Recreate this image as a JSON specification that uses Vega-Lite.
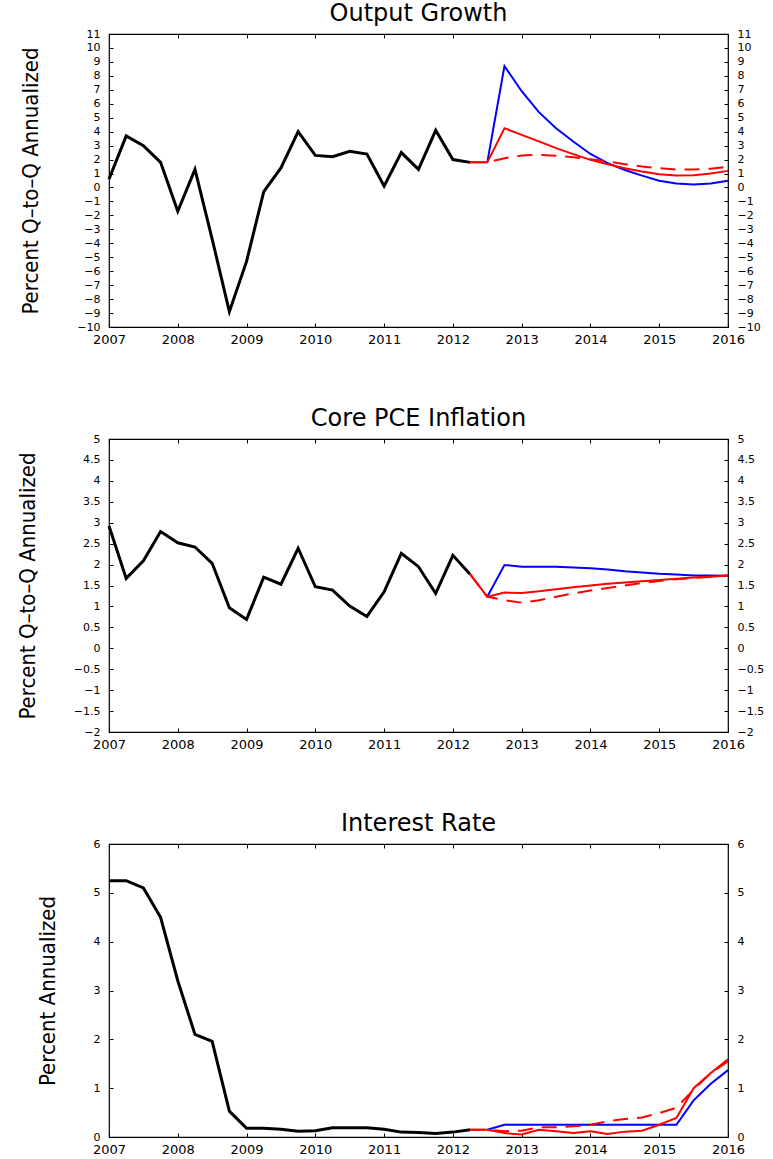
{
  "$schema": "https://vega.github.io/schema/vega-lite/v6.json",
  "background": "white",
  "padding": {"left": 15, "top": 1, "right": 0, "bottom": 0},
  "spacing": 59,
  "config": {
    "view": {"stroke": "black", "strokeWidth": 1.2},
    "axis": {"grid": false, "domain": false, "tickColor": "black", "tickSize": 4, "offset": -4, "labelColor": "black", "labelFont": "DejaVu Sans", "titleColor": "black", "titleFont": "Liberation Sans Narrow, DejaVu Sans Condensed, sans-serif", "titleFontWeight": "normal", "titleFontSize": 22},
    "axisX": {"labelFontSize": 13, "labelPadding": 6, "labelFlush": false},
    "axisY": {"labelFontSize": 11, "labelPadding": 9, "titlePadding": 34},
    "title": {"font": "DejaVu Sans", "fontSize": 24, "fontWeight": "normal", "color": "black", "offset": 2}
  },
  "datasets": {
    "g": [
      {"t": 2007, "v": 0.6, "s": "A"}, {"t": 2007.25, "v": 3.7, "s": "A"}, {"t": 2007.5, "v": 3.0, "s": "A"}, {"t": 2007.75, "v": 1.8, "s": "A"},
      {"t": 2008, "v": -1.7, "s": "A"}, {"t": 2008.25, "v": 1.3, "s": "A"}, {"t": 2008.5, "v": -3.7, "s": "A"}, {"t": 2008.75, "v": -8.9, "s": "A"},
      {"t": 2009, "v": -5.3, "s": "A"}, {"t": 2009.25, "v": -0.3, "s": "A"}, {"t": 2009.5, "v": 1.4, "s": "A"}, {"t": 2009.75, "v": 4.0, "s": "A"},
      {"t": 2010, "v": 2.3, "s": "A"}, {"t": 2010.25, "v": 2.2, "s": "A"}, {"t": 2010.5, "v": 2.6, "s": "A"}, {"t": 2010.75, "v": 2.4, "s": "A"},
      {"t": 2011, "v": 0.1, "s": "A"}, {"t": 2011.25, "v": 2.5, "s": "A"}, {"t": 2011.5, "v": 1.3, "s": "A"}, {"t": 2011.75, "v": 4.1, "s": "A"},
      {"t": 2012, "v": 2.0, "s": "A"}, {"t": 2012.25, "v": 1.8, "s": "A"},
      {"t": 2012.5, "v": 1.8, "s": "B"}, {"t": 2012.75, "v": 8.7, "s": "B"}, {"t": 2013, "v": 6.9, "s": "B"}, {"t": 2013.25, "v": 5.4, "s": "B"},
      {"t": 2013.5, "v": 4.25, "s": "B"}, {"t": 2013.75, "v": 3.3, "s": "B"}, {"t": 2014, "v": 2.4, "s": "B"}, {"t": 2014.25, "v": 1.75, "s": "B"},
      {"t": 2014.5, "v": 1.25, "s": "B"}, {"t": 2014.75, "v": 0.85, "s": "B"}, {"t": 2015, "v": 0.48, "s": "B"}, {"t": 2015.25, "v": 0.29, "s": "B"},
      {"t": 2015.5, "v": 0.21, "s": "B"}, {"t": 2015.75, "v": 0.29, "s": "B"}, {"t": 2016, "v": 0.48, "s": "B"},
      {"t": 2012.25, "v": 1.8, "s": "R"}, {"t": 2012.5, "v": 1.8, "s": "R"}, {"t": 2012.75, "v": 4.25, "s": "R"}, {"t": 2013, "v": 3.77, "s": "R"},
      {"t": 2013.25, "v": 3.3, "s": "R"}, {"t": 2013.5, "v": 2.82, "s": "R"}, {"t": 2013.75, "v": 2.39, "s": "R"}, {"t": 2014, "v": 1.98, "s": "R"},
      {"t": 2014.25, "v": 1.67, "s": "R"}, {"t": 2014.5, "v": 1.38, "s": "R"}, {"t": 2014.75, "v": 1.15, "s": "R"}, {"t": 2015, "v": 0.95, "s": "R"},
      {"t": 2015.25, "v": 0.86, "s": "R"}, {"t": 2015.5, "v": 0.88, "s": "R"}, {"t": 2015.75, "v": 1.0, "s": "R"}, {"t": 2016, "v": 1.19, "s": "R"},
      {"t": 2012.25, "v": 1.8, "s": "D"}, {"t": 2012.5, "v": 1.8, "s": "D"}, {"t": 2012.75, "v": 2.1, "s": "D"}, {"t": 2013, "v": 2.29, "s": "D"},
      {"t": 2013.25, "v": 2.34, "s": "D"}, {"t": 2013.5, "v": 2.27, "s": "D"}, {"t": 2013.75, "v": 2.17, "s": "D"}, {"t": 2014, "v": 2.03, "s": "D"},
      {"t": 2014.25, "v": 1.86, "s": "D"}, {"t": 2014.5, "v": 1.67, "s": "D"}, {"t": 2014.75, "v": 1.5, "s": "D"}, {"t": 2015, "v": 1.38, "s": "D"},
      {"t": 2015.25, "v": 1.29, "s": "D"}, {"t": 2015.5, "v": 1.29, "s": "D"}, {"t": 2015.75, "v": 1.34, "s": "D"}, {"t": 2016, "v": 1.5, "s": "D"}
    ],
    "p": [
      {"t": 2007, "v": 2.92, "s": "A"}, {"t": 2007.25, "v": 1.67, "s": "A"}, {"t": 2007.5, "v": 2.09, "s": "A"}, {"t": 2007.75, "v": 2.79, "s": "A"},
      {"t": 2008, "v": 2.52, "s": "A"}, {"t": 2008.25, "v": 2.42, "s": "A"}, {"t": 2008.5, "v": 2.03, "s": "A"}, {"t": 2008.75, "v": 0.97, "s": "A"},
      {"t": 2009, "v": 0.69, "s": "A"}, {"t": 2009.25, "v": 1.7, "s": "A"}, {"t": 2009.5, "v": 1.53, "s": "A"}, {"t": 2009.75, "v": 2.39, "s": "A"},
      {"t": 2010, "v": 1.47, "s": "A"}, {"t": 2010.25, "v": 1.39, "s": "A"}, {"t": 2010.5, "v": 1.01, "s": "A"}, {"t": 2010.75, "v": 0.76, "s": "A"},
      {"t": 2011, "v": 1.35, "s": "A"}, {"t": 2011.25, "v": 2.27, "s": "A"}, {"t": 2011.5, "v": 1.95, "s": "A"}, {"t": 2011.75, "v": 1.31, "s": "A"},
      {"t": 2012, "v": 2.22, "s": "A"}, {"t": 2012.25, "v": 1.77, "s": "A"},
      {"t": 2012.5, "v": 1.23, "s": "B"}, {"t": 2012.75, "v": 1.99, "s": "B"}, {"t": 2013, "v": 1.95, "s": "B"}, {"t": 2013.25, "v": 1.95, "s": "B"},
      {"t": 2013.5, "v": 1.95, "s": "B"}, {"t": 2013.75, "v": 1.93, "s": "B"}, {"t": 2014, "v": 1.91, "s": "B"}, {"t": 2014.25, "v": 1.88, "s": "B"},
      {"t": 2014.5, "v": 1.84, "s": "B"}, {"t": 2014.75, "v": 1.81, "s": "B"}, {"t": 2015, "v": 1.78, "s": "B"}, {"t": 2015.25, "v": 1.76, "s": "B"},
      {"t": 2015.5, "v": 1.74, "s": "B"}, {"t": 2015.75, "v": 1.74, "s": "B"}, {"t": 2016, "v": 1.73, "s": "B"},
      {"t": 2012.25, "v": 1.77, "s": "R"}, {"t": 2012.5, "v": 1.23, "s": "R"}, {"t": 2012.75, "v": 1.33, "s": "R"}, {"t": 2013, "v": 1.32, "s": "R"},
      {"t": 2013.25, "v": 1.36, "s": "R"}, {"t": 2013.5, "v": 1.41, "s": "R"}, {"t": 2013.75, "v": 1.46, "s": "R"}, {"t": 2014, "v": 1.5, "s": "R"},
      {"t": 2014.25, "v": 1.54, "s": "R"}, {"t": 2014.5, "v": 1.57, "s": "R"}, {"t": 2014.75, "v": 1.6, "s": "R"}, {"t": 2015, "v": 1.63, "s": "R"},
      {"t": 2015.25, "v": 1.66, "s": "R"}, {"t": 2015.5, "v": 1.69, "s": "R"}, {"t": 2015.75, "v": 1.71, "s": "R"}, {"t": 2016, "v": 1.74, "s": "R"},
      {"t": 2012.25, "v": 1.77, "s": "D"}, {"t": 2012.5, "v": 1.23, "s": "D"}, {"t": 2012.75, "v": 1.15, "s": "D"}, {"t": 2013, "v": 1.09, "s": "D"},
      {"t": 2013.25, "v": 1.15, "s": "D"}, {"t": 2013.5, "v": 1.23, "s": "D"}, {"t": 2013.75, "v": 1.31, "s": "D"}, {"t": 2014, "v": 1.38, "s": "D"},
      {"t": 2014.25, "v": 1.44, "s": "D"}, {"t": 2014.5, "v": 1.5, "s": "D"}, {"t": 2014.75, "v": 1.56, "s": "D"}, {"t": 2015, "v": 1.61, "s": "D"},
      {"t": 2015.25, "v": 1.65, "s": "D"}, {"t": 2015.5, "v": 1.68, "s": "D"}, {"t": 2015.75, "v": 1.71, "s": "D"}, {"t": 2016, "v": 1.74, "s": "D"}
    ],
    "i": [
      {"t": 2007, "v": 5.25, "s": "A"}, {"t": 2007.25, "v": 5.25, "s": "A"}, {"t": 2007.5, "v": 5.1, "s": "A"}, {"t": 2007.75, "v": 4.5, "s": "A"},
      {"t": 2008, "v": 3.2, "s": "A"}, {"t": 2008.25, "v": 2.1, "s": "A"}, {"t": 2008.5, "v": 1.96, "s": "A"}, {"t": 2008.75, "v": 0.53, "s": "A"},
      {"t": 2009, "v": 0.18, "s": "A"}, {"t": 2009.25, "v": 0.18, "s": "A"}, {"t": 2009.5, "v": 0.16, "s": "A"}, {"t": 2009.75, "v": 0.12, "s": "A"},
      {"t": 2010, "v": 0.13, "s": "A"}, {"t": 2010.25, "v": 0.19, "s": "A"}, {"t": 2010.5, "v": 0.19, "s": "A"}, {"t": 2010.75, "v": 0.19, "s": "A"},
      {"t": 2011, "v": 0.16, "s": "A"}, {"t": 2011.25, "v": 0.1, "s": "A"}, {"t": 2011.5, "v": 0.09, "s": "A"}, {"t": 2011.75, "v": 0.07, "s": "A"},
      {"t": 2012, "v": 0.1, "s": "A"}, {"t": 2012.25, "v": 0.15, "s": "A"},
      {"t": 2012.5, "v": 0.15, "s": "B"}, {"t": 2012.75, "v": 0.25, "s": "B"}, {"t": 2013, "v": 0.25, "s": "B"}, {"t": 2013.25, "v": 0.25, "s": "B"},
      {"t": 2013.5, "v": 0.25, "s": "B"}, {"t": 2013.75, "v": 0.25, "s": "B"}, {"t": 2014, "v": 0.25, "s": "B"}, {"t": 2014.25, "v": 0.25, "s": "B"},
      {"t": 2014.5, "v": 0.25, "s": "B"}, {"t": 2014.75, "v": 0.25, "s": "B"}, {"t": 2015, "v": 0.25, "s": "B"}, {"t": 2015.25, "v": 0.25, "s": "B"},
      {"t": 2015.5, "v": 0.75, "s": "B"}, {"t": 2015.75, "v": 1.09, "s": "B"}, {"t": 2016, "v": 1.37, "s": "B"},
      {"t": 2012.25, "v": 0.15, "s": "R"}, {"t": 2012.5, "v": 0.15, "s": "R"}, {"t": 2012.75, "v": 0.08, "s": "R"}, {"t": 2013, "v": 0.05, "s": "R"},
      {"t": 2013.25, "v": 0.15, "s": "R"}, {"t": 2013.5, "v": 0.12, "s": "R"}, {"t": 2013.75, "v": 0.08, "s": "R"}, {"t": 2014, "v": 0.12, "s": "R"},
      {"t": 2014.25, "v": 0.06, "s": "R"}, {"t": 2014.5, "v": 0.11, "s": "R"}, {"t": 2014.75, "v": 0.13, "s": "R"}, {"t": 2015, "v": 0.25, "s": "R"},
      {"t": 2015.25, "v": 0.39, "s": "R"}, {"t": 2015.5, "v": 1.0, "s": "R"}, {"t": 2015.75, "v": 1.31, "s": "R"}, {"t": 2016, "v": 1.59, "s": "R"},
      {"t": 2012.25, "v": 0.15, "s": "D"}, {"t": 2012.5, "v": 0.15, "s": "D"}, {"t": 2012.75, "v": 0.12, "s": "D"}, {"t": 2013, "v": 0.13, "s": "D"},
      {"t": 2013.25, "v": 0.2, "s": "D"}, {"t": 2013.5, "v": 0.2, "s": "D"}, {"t": 2013.75, "v": 0.22, "s": "D"}, {"t": 2014, "v": 0.25, "s": "D"},
      {"t": 2014.25, "v": 0.32, "s": "D"}, {"t": 2014.5, "v": 0.37, "s": "D"}, {"t": 2014.75, "v": 0.4, "s": "D"}, {"t": 2015, "v": 0.49, "s": "D"},
      {"t": 2015.25, "v": 0.6, "s": "D"}, {"t": 2015.5, "v": 0.97, "s": "D"}, {"t": 2015.75, "v": 1.31, "s": "D"}, {"t": 2016, "v": 1.55, "s": "D"}
    ]
  },
  "vconcat": [
    {
      "title": "Output Growth",
      "width": 619, "height": 293,
      "data": {"name": "g"},
      "layer": [
        {"transform": [{"filter": "datum.s === 'A'"}], "mark": {"type": "line", "color": "black", "strokeWidth": 3},
         "encoding": {
           "x": {"field": "t", "type": "quantitative", "scale": {"domain": [2007, 2016], "nice": false, "zero": false}, "axis": {"orient": "bottom", "values": [2007, 2008, 2009, 2010, 2011, 2012, 2013, 2014, 2015, 2016], "format": "d", "title": null}},
           "y": {"field": "v", "type": "quantitative", "scale": {"domain": [-10, 11], "nice": false, "zero": false}, "axis": {"orient": "left", "values": [-10, -9, -8, -7, -6, -5, -4, -3, -2, -1, 0, 1, 2, 3, 4, 5, 6, 7, 8, 9, 10, 11], "title": "Percent Q–to–Q Annualized"}}}},
        {"transform": [{"filter": "datum.s === 'B'"}], "mark": {"type": "line", "color": "#0000ff", "strokeWidth": 2},
         "encoding": {
           "x": {"field": "t", "type": "quantitative", "axis": {"orient": "top", "values": [2007, 2008, 2009, 2010, 2011, 2012, 2013, 2014, 2015, 2016], "labels": false, "title": null}},
           "y": {"field": "v", "type": "quantitative", "axis": {"orient": "right", "values": [-10, -9, -8, -7, -6, -5, -4, -3, -2, -1, 0, 1, 2, 3, 4, 5, 6, 7, 8, 9, 10, 11], "title": null}}}},
        {"transform": [{"filter": "datum.s === 'R'"}], "mark": {"type": "line", "color": "#ff0000", "strokeWidth": 2},
         "encoding": {"x": {"field": "t", "type": "quantitative", "axis": null}, "y": {"field": "v", "type": "quantitative", "axis": null}}},
        {"transform": [{"filter": "datum.s === 'D'"}], "mark": {"type": "line", "color": "#ff0000", "strokeWidth": 2, "strokeDash": [15, 9]},
         "encoding": {"x": {"field": "t", "type": "quantitative", "axis": null}, "y": {"field": "v", "type": "quantitative", "axis": null}}}
      ],
      "resolve": {"axis": {"x": "independent", "y": "independent"}}
    },
    {
      "title": "Core PCE Inflation",
      "width": 619, "height": 293,
      "data": {"name": "p"},
      "layer": [
        {"transform": [{"filter": "datum.s === 'A'"}], "mark": {"type": "line", "color": "black", "strokeWidth": 3},
         "encoding": {
           "x": {"field": "t", "type": "quantitative", "scale": {"domain": [2007, 2016], "nice": false, "zero": false}, "axis": {"orient": "bottom", "values": [2007, 2008, 2009, 2010, 2011, 2012, 2013, 2014, 2015, 2016], "format": "d", "title": null}},
           "y": {"field": "v", "type": "quantitative", "scale": {"domain": [-2, 5], "nice": false, "zero": false}, "axis": {"orient": "left", "values": [-2, -1.5, -1, -0.5, 0, 0.5, 1, 1.5, 2, 2.5, 3, 3.5, 4, 4.5, 5], "format": "~g", "title": "Percent Q–to–Q Annualized"}}}},
        {"transform": [{"filter": "datum.s === 'B'"}], "mark": {"type": "line", "color": "#0000ff", "strokeWidth": 2},
         "encoding": {
           "x": {"field": "t", "type": "quantitative", "axis": {"orient": "top", "values": [2007, 2008, 2009, 2010, 2011, 2012, 2013, 2014, 2015, 2016], "labels": false, "title": null}},
           "y": {"field": "v", "type": "quantitative", "axis": {"orient": "right", "values": [-2, -1.5, -1, -0.5, 0, 0.5, 1, 1.5, 2, 2.5, 3, 3.5, 4, 4.5, 5], "format": "~g", "title": null}}}},
        {"transform": [{"filter": "datum.s === 'R'"}], "mark": {"type": "line", "color": "#ff0000", "strokeWidth": 2},
         "encoding": {"x": {"field": "t", "type": "quantitative", "axis": null}, "y": {"field": "v", "type": "quantitative", "axis": null}}},
        {"transform": [{"filter": "datum.s === 'D'"}], "mark": {"type": "line", "color": "#ff0000", "strokeWidth": 2, "strokeDash": [15, 9]},
         "encoding": {"x": {"field": "t", "type": "quantitative", "axis": null}, "y": {"field": "v", "type": "quantitative", "axis": null}}}
      ],
      "resolve": {"axis": {"x": "independent", "y": "independent"}}
    },
    {
      "title": "Interest Rate",
      "width": 619, "height": 293,
      "data": {"name": "i"},
      "layer": [
        {"transform": [{"filter": "datum.s === 'A'"}], "mark": {"type": "line", "color": "black", "strokeWidth": 3},
         "encoding": {
           "x": {"field": "t", "type": "quantitative", "scale": {"domain": [2007, 2016], "nice": false, "zero": false}, "axis": {"orient": "bottom", "values": [2007, 2008, 2009, 2010, 2011, 2012, 2013, 2014, 2015, 2016], "format": "d", "title": null}},
           "y": {"field": "v", "type": "quantitative", "scale": {"domain": [0, 6], "nice": false, "zero": false}, "axis": {"orient": "left", "values": [0, 1, 2, 3, 4, 5, 6], "title": "Percent Annualized"}}}},
        {"transform": [{"filter": "datum.s === 'B'"}], "mark": {"type": "line", "color": "#0000ff", "strokeWidth": 2},
         "encoding": {
           "x": {"field": "t", "type": "quantitative", "axis": {"orient": "top", "values": [2007, 2008, 2009, 2010, 2011, 2012, 2013, 2014, 2015, 2016], "labels": false, "title": null}},
           "y": {"field": "v", "type": "quantitative", "axis": {"orient": "right", "values": [0, 1, 2, 3, 4, 5, 6], "title": null}}}},
        {"transform": [{"filter": "datum.s === 'R'"}], "mark": {"type": "line", "color": "#ff0000", "strokeWidth": 2},
         "encoding": {"x": {"field": "t", "type": "quantitative", "axis": null}, "y": {"field": "v", "type": "quantitative", "axis": null}}},
        {"transform": [{"filter": "datum.s === 'D'"}], "mark": {"type": "line", "color": "#ff0000", "strokeWidth": 2, "strokeDash": [15, 9]},
         "encoding": {"x": {"field": "t", "type": "quantitative", "axis": null}, "y": {"field": "v", "type": "quantitative", "axis": null}}}
      ],
      "resolve": {"axis": {"x": "independent", "y": "independent"}}
    }
  ]
}
